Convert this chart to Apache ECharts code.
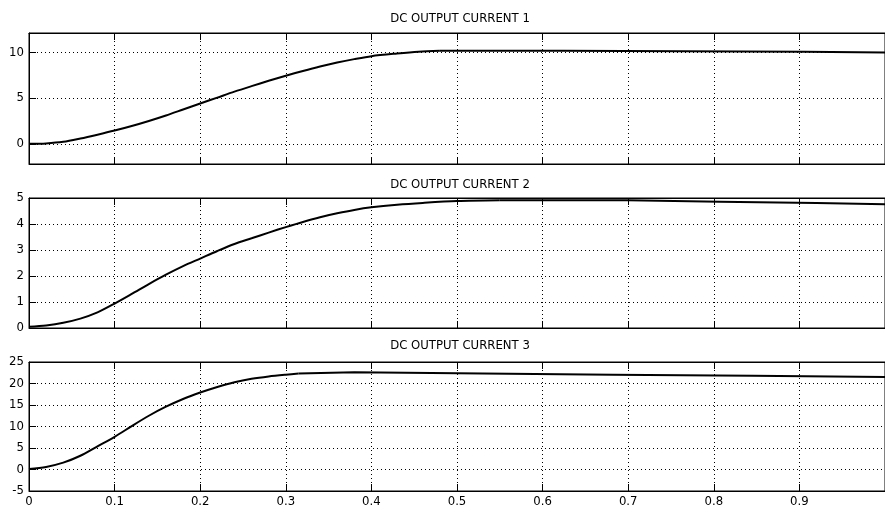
<!DOCTYPE html>
<html><head><meta charset="utf-8">
<script src="https://cdn.jsdelivr.net/npm/echarts@6/dist/echarts.min.js"></script>
<style>html,body{margin:0;padding:0;background:#fff}#c{width:885px;height:508px}</style>
</head><body><div id="c"></div>
<script>
const titles = ['DC OUTPUT CURRENT 1', 'DC OUTPUT CURRENT 2', 'DC OUTPUT CURRENT 3'];
const xTicks = [0, 0.1, 0.2, 0.3, 0.4, 0.5, 0.6, 0.7, 0.8, 0.9, 1];
const yTicks1 = [0, 5, 10];
const yTicks2 = [0, 1, 2, 3, 4, 5];
const yTicks3 = [-5, 0, 5, 10, 15, 20, 25];

const time1 = [0, 0.02, 0.04, 0.06, 0.08, 0.1, 0.12, 0.14, 0.16, 0.18, 0.2, 0.22, 0.24, 0.26, 0.28, 0.3, 0.32, 0.34, 0.36, 0.38, 0.4, 0.43, 0.455, 0.48, 0.624, 0.624, 0.906, 0.906, 1.0];
const current1 = [0, 0.05, 0.22, 0.58, 1.0, 1.45, 1.95, 2.5, 3.1, 3.75, 4.4, 5.05, 5.7, 6.3, 6.88, 7.43, 7.96, 8.45, 8.88, 9.25, 9.57, 9.86, 10.06, 10.17, 10.17, 10.05, 10.05, 9.97, 9.97];

const time2 = [0, 0.02, 0.04, 0.06, 0.08, 0.1, 0.12, 0.14, 0.16, 0.18, 0.2, 0.22, 0.24, 0.26, 0.28, 0.3, 0.32, 0.34, 0.36, 0.38, 0.4, 0.43, 0.46, 0.5, 0.55, 0.7, 0.7, 0.807, 0.807, 0.92, 0.92, 1.0];
const current2 = [0.05, 0.1, 0.2, 0.36, 0.6, 0.94, 1.31, 1.69, 2.05, 2.38, 2.67, 2.96, 3.23, 3.45, 3.67, 3.88, 4.08, 4.26, 4.41, 4.54, 4.64, 4.74, 4.81, 4.88, 4.91, 4.91, 4.86, 4.86, 4.81, 4.81, 4.76, 4.76];

const time3 = [0, 0.02, 0.04, 0.06, 0.08, 0.1, 0.12, 0.14, 0.16, 0.18, 0.2, 0.22, 0.24, 0.26, 0.28, 0.3, 0.315, 0.315, 0.38, 0.38, 0.53, 0.53, 0.682, 0.682, 0.845, 0.845, 1.0];
const current3 = [0.1, 0.6, 1.6, 3.2, 5.4, 7.6, 10.1, 12.5, 14.6, 16.4, 17.9, 19.2, 20.3, 21.1, 21.65, 22.05, 22.3, 22.6, 22.6, 22.3, 22.3, 22.05, 22.05, 21.8, 21.8, 21.5, 21.5];

// index of the last point of the smooth rise in each curve; the stepped tail follows
const riseEnd = [23, 24, 16];

const FONT = '"Liberation Sans Narrow", "DejaVu Sans Condensed", "Liberation Sans", sans-serif';
const grids = [
  {left: 29, width: 862, top: 33, height: 131},
  {left: 29, width: 862, top: 198, height: 130},
  {left: 29, width: 862, top: 362, height: 131}
];
const yRanges = [[-2.2, 12.1, yTicks1], [0, 5, yTicks2], [-5, 25, yTicks3]];
const dotted = {color: '#000', width: 1, type: [1, 3]};

const xAxes = [], yAxes = [];
grids.forEach((g, i) => {
  const base = {
    type: 'value', gridIndex: i, min: 0, max: 1,
    axisLine: {show: true, onZero: false, lineStyle: {color: '#000', width: 1}},
    axisTick: {show: true, inside: true, length: 7, customValues: xTicks, lineStyle: {color: '#000'}}
  };
  xAxes.push(Object.assign({}, base, {
    position: 'bottom',
    axisLabel: {show: i === 2, customValues: xTicks.slice(0, 10), color: '#000', fontFamily: FONT, fontSize: 13, margin: 4,
      formatter: v => v === 0 ? '0' : v.toFixed(1)},
    splitLine: {show: true, lineStyle: dotted}
  }));
  xAxes.push(Object.assign({}, base, {
    position: 'top',
    axisLabel: {show: false},
    splitLine: {show: false}
  }));
  const r = yRanges[i];
  yAxes.push({
    type: 'value', gridIndex: i, min: r[0], max: r[1], position: 'left',
    axisLine: {show: true, onZero: false, lineStyle: {color: '#000', width: 1}},
    axisTick: {show: true, inside: true, length: 7, customValues: r[2], lineStyle: {color: '#000'}},
    axisLabel: {show: true, customValues: r[2], color: '#000', fontFamily: FONT, fontSize: 13, margin: 5},
    splitLine: {show: true, lineStyle: dotted}
  });
});

const seriesData = [[time1, current1], [time2, current2], [time3, current3]];
const series = [];
seriesData.forEach((d, i) => {
  const pts = d[0].map((t, k) => [t, d[1][k]]);
  const e = riseEnd[i];
  series.push({
    type: 'line', xAxisIndex: i * 2, yAxisIndex: i, name: titles[i],
    data: pts.slice(0, e + 1), showSymbol: false, symbol: 'none', smooth: 0.3,
    lineStyle: {color: '#000', width: 2}, z: 5
  });
  series.push({
    type: 'line', xAxisIndex: i * 2, yAxisIndex: i, name: titles[i],
    data: pts.slice(e), showSymbol: false, symbol: 'none', smooth: false,
    lineStyle: {color: '#000', width: 2}, z: 5
  });
});

const chart = echarts.init(document.getElementById('c'), null, {renderer: 'canvas'});
chart.setOption({
  animation: false,
  backgroundColor: '#fff',
  title: titles.map((t, i) => ({
    text: t, left: 460, textAlign: 'center', top: [12, 178, 339][i], padding: 0,
    textStyle: {fontFamily: FONT, fontSize: 13, fontWeight: 'normal', color: '#000'}
  })),
  grid: grids.map(g => Object.assign({show: true, borderColor: '#000', borderWidth: 1, backgroundColor: '#fff'}, g)),
  xAxis: xAxes,
  yAxis: yAxes,
  series: series
});
</script></body></html>
